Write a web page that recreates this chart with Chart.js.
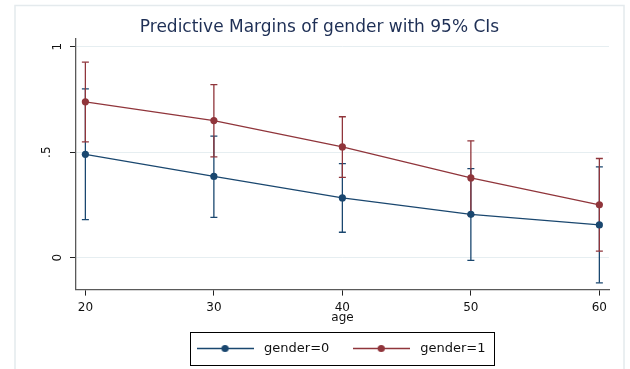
<!DOCTYPE html>
<html>
<head>
<meta charset="utf-8">
<script src="https://cdn.jsdelivr.net/npm/chart.js@4.4.1/dist/chart.umd.min.js"></script>
<style>
  html, body { margin: 0; padding: 0; background: #ffffff; }
  #wrap { width: 630px; height: 369px; }
</style>
</head>
<body>
<div id="wrap"><canvas id="c" width="630" height="369"></canvas></div>
<script>
// Predictive margins by age, with 95% confidence intervals
const ages = [20, 30, 40, 50, 60];
const gender0 = [0.490, 0.385, 0.283, 0.205, 0.155];
const gender0Lo = [0.180, 0.191, 0.120, -0.013, -0.120];
const gender0Hi = [0.800, 0.576, 0.446, 0.422, 0.430];
const gender1 = [0.739, 0.650, 0.525, 0.378, 0.250];
const gender1Lo = [0.549, 0.478, 0.380, 0.202, 0.031];
const gender1Hi = [0.927, 0.821, 0.668, 0.554, 0.470];
const xTicks = [20, 30, 40, 50, 60];
const yTicks = [0, 0.5, 1];
// the ".5" label sits further out from the axis, hence the blank second line
const yTickLabels = ['0', ['.5', ''], '1'];
const seriesNames = ['gender=0', 'gender=1'];

const BLUE = '#1a476f';
const RED = '#90353b';
const FONT = 'DejaVu Sans';

// points of a series as {x, y}
function pts(vals) { return ages.map((a, i) => ({ x: a, y: vals[i] })); }
// capped interval segments: low, high, then a gap
function ciPts(lo, hi) {
  const out = [];
  ages.forEach((a, i) => {
    out.push({ x: a, y: lo[i] }, { x: a, y: hi[i] }, { x: a, y: null });
  });
  return out;
}

// legend symbol: a short line with a dot in the middle
function legendSymbol(color) {
  const c = document.createElement('canvas');
  c.width = 57; c.height = 9;
  const g = c.getContext('2d');
  g.strokeStyle = color; g.lineWidth = 1.3;
  g.beginPath(); g.moveTo(0, 4.5); g.lineTo(57, 4.5); g.stroke();
  g.fillStyle = color;
  g.beginPath(); g.arc(28.5, 4.5, 3.6, 0, Math.PI * 2); g.fill();
  return c;
}

// faint outer frame around the graph region
const frame = {
  id: 'frame',
  beforeDraw(chart) {
    const ctx = chart.ctx;
    ctx.save();
    ctx.strokeStyle = '#e4eaed';
    ctx.lineWidth = 1.5;
    ctx.strokeRect(15, 5.5, 609, 380);
    ctx.restore();
  }
};

// legend nudged a little left of the plot centre, with a black outline
const LEGEND_SHIFT = -3.5;
const legendBox = {
  id: 'legendBox',
  afterUpdate(chart) {
    const lg = chart.legend;
    if (!lg) return;
    lg.left += LEGEND_SHIFT;
    lg.right += LEGEND_SHIFT;
    (lg.legendHitBoxes || []).forEach(h => { h.left += LEGEND_SHIFT; });
  },
  afterDraw(chart) {
    const lg = chart.legend;
    if (!lg || !lg.legendHitBoxes || !lg.legendHitBoxes.length) return;
    const hb = lg.legendHitBoxes;
    const first = hb[0], last = hb[hb.length - 1];
    const cy = first.top + first.height / 2;
    const ctx = chart.ctx;
    ctx.save();
    ctx.strokeStyle = '#000000';
    ctx.lineWidth = 1;
    const l = Math.round(first.left - 3) + 0.5;
    const r = Math.round(last.left + last.width + 9) + 0.5;
    ctx.strokeRect(l, Math.round(cy - 16.5) + 0.5, r - l, 33);
    ctx.restore();
  }
};

new Chart(document.getElementById('c'), {
  type: 'line',
  data: {
    datasets: [
      {
        label: seriesNames[0], data: pts(gender0), borderColor: BLUE, backgroundColor: BLUE,
        borderWidth: 1.3, pointRadius: 3.6, pointHoverRadius: 3.6, pointBorderWidth: 0,
        pointStyle: 'circle', order: 1, tension: 0
      },
      {
        label: seriesNames[1], data: pts(gender1), borderColor: RED, backgroundColor: RED,
        borderWidth: 1.3, pointRadius: 3.6, pointHoverRadius: 3.6, pointBorderWidth: 0,
        pointStyle: 'circle', order: 0, tension: 0
      },
      {
        label: 'ci0', data: ciPts(gender0Lo, gender0Hi), borderColor: BLUE, backgroundColor: BLUE,
        borderWidth: 1.3, pointStyle: 'line', pointRadius: 3.5, pointBorderWidth: 1.3,
        pointBorderColor: BLUE, spanGaps: false, order: 3
      },
      {
        label: 'ci1', data: ciPts(gender1Lo, gender1Hi), borderColor: RED, backgroundColor: RED,
        borderWidth: 1.3, pointStyle: 'line', pointRadius: 3.5, pointBorderWidth: 1.3,
        pointBorderColor: RED, spanGaps: false, order: 2
      }
    ]
  },
  options: {
    responsive: false,
    animation: false,
    events: [],
    layout: { padding: { left: 15, right: 6, top: 6, bottom: 4 } },
    scales: {
      x: {
        type: 'linear', min: 19.27, max: 60.75,
        afterBuildTicks(s) { s.ticks = xTicks.map(v => ({ value: v })); },
        afterFit(s) { s.height = 33; },
        grid: { drawOnChartArea: false, tickLength: 6, tickColor: '#222', tickWidth: 1 },
        border: { color: '#5a5a5a', width: 1.3 },
        ticks: { color: '#111', padding: 5, font: { family: FONT, size: 12 }, maxRotation: 0 },
        title: {
          display: true, text: 'age', color: '#111',
          font: { family: FONT, size: 12, lineHeight: 0.87 }, padding: { top: 0, bottom: 0 }
        }
      },
      y: {
        type: 'linear', min: -0.152, max: 1.037,
        afterBuildTicks(s) { s.ticks = yTicks.map(v => ({ value: v })); },
        afterFit(s) { s.width = 61; },
        grid: { color: '#e6eef1', lineWidth: 1, tickLength: 6, tickColor: '#222', tickWidth: 1 },
        border: { color: '#5a5a5a', width: 1.3 },
        ticks: {
          color: '#111', padding: 6, crossAlign: 'center', minRotation: 90, maxRotation: 90,
          font: { family: FONT, size: 12, lineHeight: 1.9 },
          callback(v) { const i = yTicks.indexOf(v); return i >= 0 ? yTickLabels[i] : ''; }
        }
      },
      yPad: {
        type: 'linear', position: 'right', display: true,
        afterFit(s) { s.width = 15; },
        grid: { display: false, drawTicks: false }, border: { display: false },
        ticks: { display: false }
      }
    },
    plugins: {
      title: {
        display: true, text: 'Predictive Margins of gender with 95% CIs',
        color: '#1e2f55', font: { family: FONT, size: 17, weight: 'normal' },
        padding: { top: 11.6, bottom: 1.0 }
      },
      legend: {
        display: true, position: 'bottom', fullSize: false,
        labels: {
          usePointStyle: true, pointStyleWidth: 65, padding: 19.4,
          color: '#111', font: { family: FONT, size: 13 },
          filter: item => item.datasetIndex < 2,
          sort: (a, b) => a.datasetIndex - b.datasetIndex,
          generateLabels(chart) {
            return chart.data.datasets.map((d, i) => ({
              text: d.label, datasetIndex: i, hidden: false,
              pointStyle: legendSymbol(d.borderColor), fillStyle: d.borderColor,
              strokeStyle: d.borderColor, lineWidth: 0, fontColor: '#111'
            }));
          }
        }
      },
      tooltip: { enabled: false }
    }
  },
  plugins: [frame, legendBox]
});
</script>
</body>
</html>
